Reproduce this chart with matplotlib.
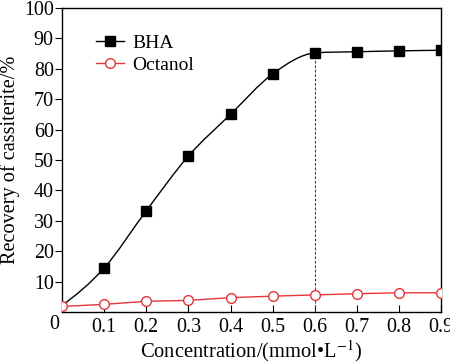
import numpy as np
import matplotlib
matplotlib.use("Agg")
import matplotlib.pyplot as plt
from matplotlib.path import Path
from matplotlib.patches import PathPatch
from matplotlib.lines import Line2D

plt.rcParams['font.family'] = ['Liberation Serif', 'DejaVu Serif']
plt.rcParams['mathtext.fontset'] = 'stix'

conc = [0.0, 0.1, 0.2, 0.3, 0.4, 0.5, 0.6, 0.7, 0.8, 0.9]
bha = [2.2, 14.5, 33.3, 51.3, 65.0, 78.3, 85.2, 85.6, 85.9, 86.1]
octanol = [1.8, 2.5, 3.5, 3.8, 4.7, 5.2, 5.6, 6.0, 6.3, 6.3]
yticks = [10, 20, 30, 40, 50, 60, 70, 80, 90, 100]
xticks = [0.1, 0.2, 0.3, 0.4, 0.5, 0.6, 0.7, 0.8, 0.9]

RED = '#e4363a'

fig = plt.figure(figsize=(4.5, 3.64), dpi=100)
ax = fig.add_axes([0.138, 0.143, 0.842, 0.835])

# smooth curve through BHA points, drawn as cubic Bezier segments
x = np.array(conc); y = np.array(bha)
h = np.diff(x); d = np.diff(y) / h
m = np.zeros_like(y)
m[0] = d[0] * 0.8
m[-1] = d[-1]
for k in range(1, len(x) - 1):
    cr = (y[k + 1] - y[k - 1]) / (x[k + 1] - x[k - 1])
    lim = 3 * min(abs(d[k - 1]), abs(d[k]))
    m[k] = np.sign(cr) * min(abs(cr), lim)
verts = [(x[0], y[0])]
codes = [Path.MOVETO]
for i in range(len(x) - 1):
    c1 = (x[i] + h[i] / 3, y[i] + m[i] * h[i] / 3)
    c2 = (x[i + 1] - h[i] / 3, y[i + 1] - m[i + 1] * h[i] / 3)
    verts += [c1, c2, (x[i + 1], y[i + 1])]
    codes += [Path.CURVE4] * 3
ax.add_patch(PathPatch(Path(verts, codes), fill=False, edgecolor='black', lw=1.0, zorder=3))
ax.plot(conc[1:], bha[1:], ls='none', marker='s', ms=6.5, color='black', zorder=4)

ax.plot(conc, octanol, color=RED, lw=1.0, marker='o', ms=7,
        mfc='white', mec=RED, mew=1.0, zorder=5)

# dashed guide at 0.6
ax.plot([conc[6], conc[6]], [0, bha[6]], ls=(0, (2.5, 1.5)), color='#444444', lw=0.8, zorder=2)

ax.set_xlim(0, 0.9)
ax.set_ylim(0, 100)
ax.set_xticks(xticks)
ax.set_xticklabels([f"{t:.1f}" for t in xticks])
ax.set_yticks(yticks)
ax.set_yticklabels([str(t) for t in yticks])
ax.tick_params(axis='x', direction='in', length=5, width=0.8, labelsize=14.4, pad=4.5)
ax.tick_params(axis='y', direction='out', length=5, width=0.8, labelsize=14.4, pad=1)
for s in ax.spines.values():
    s.set_linewidth(1.0)
ax.text(-0.022, -0.04, "0", transform=ax.transAxes, ha='center', va='center', fontsize=14.4)

ax.set_xlabel("Concentration/(mmol\u2022L$^{-1}$)", fontsize=14.8, labelpad=0.5)
ax.set_ylabel("Recovery of cassiterite/%", fontsize=14.6, labelpad=3)
ax.yaxis.set_label_coords(-0.11, 0.5)

h1 = Line2D([], [], color='black', marker='s', ms=6.5, lw=1.0)
h2 = Line2D([], [], color=RED, marker='o', ms=7, mfc='white', mec=RED, lw=1.0)
ax.legend([h1, h2], ["BHA", "Octanol"], loc='upper left', bbox_to_anchor=(0.08, 0.925),
          frameon=False, fontsize=14, handlelength=1.4, handletextpad=0.45,
          labelspacing=0.22, borderpad=0.2, borderaxespad=0)

fig.savefig("out.png", dpi=100)
